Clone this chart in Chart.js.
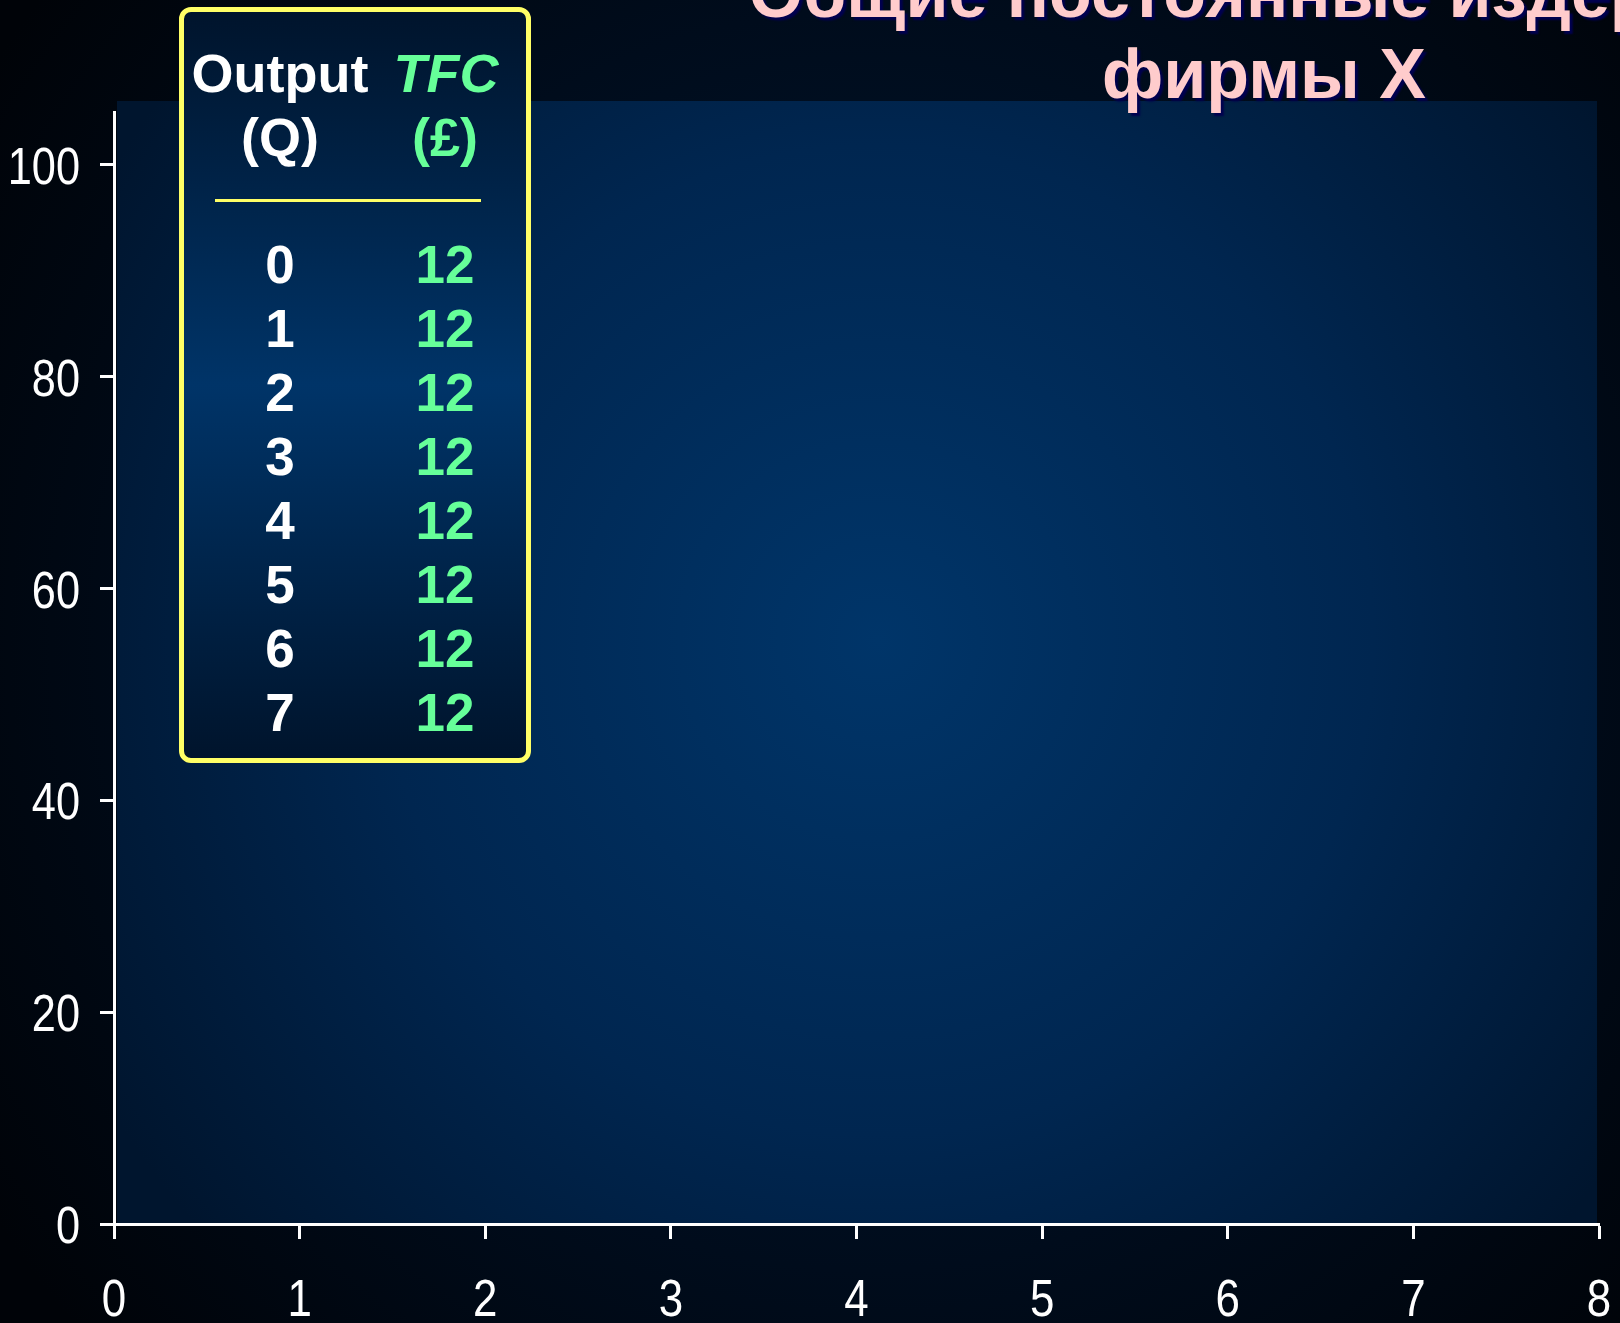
<!DOCTYPE html>
<html>
<head>
<meta charset="utf-8">
<script src="https://cdn.jsdelivr.net/npm/chart.js@4"></script>
<style>
  html, body { margin: 0; padding: 0; background: #000710; overflow: hidden; }
  #wrap { position: relative; width: 1620px; height: 1323px; overflow: hidden; }
  #chart { position: absolute; left: 0; top: 0; }
  .title {
    position: absolute; left: 1264px; top: -47px; transform: translateX(-50%);
    white-space: nowrap; text-align: center;
    font-family: "Liberation Sans", Arial, sans-serif; font-weight: bold;
    font-size: 70px; line-height: 81px; color: #ffcccc;
    text-shadow: 3px 3px 2px #000050;
  }
  .box {
    position: absolute; left: 179px; top: 7px; width: 342px; height: 746px;
    border: 5px solid #ffff66; border-radius: 12px;
    background: linear-gradient(to bottom, #00142c 0%, #003468 50%, #00142c 100%);
  }
  .cell {
    position: absolute; width: 180px; margin-left: -90px; text-align: center;
    font-family: "Liberation Sans", Arial, sans-serif; font-weight: bold;
    font-size: 53px; line-height: 64px; white-space: nowrap;
  }
  .head { font-size: 54px; }
  .q { color: #ffffff; }
  .c { color: #66ff99; }
  .rule { position: absolute; left: 215px; top: 199px; width: 266px; height: 3px; background: #ffff66; }
</style>
</head>
<body>
<div id="wrap">
  <canvas id="chart" width="1620" height="1323"></canvas>
  <div class="title">Общие постоянные издержки<br>фирмы X</div>
  <div class="box"></div>
  <div class="rule"></div>
  <div id="table"></div>
</div>
<script>
// values shown in the table
var outputQ = [0, 1, 2, 3, 4, 5, 6, 7];
var tfcValues = [12, 12, 12, 12, 12, 12, 12, 12];

// axis ticks
var xTicks = [0, 1, 2, 3, 4, 5, 6, 7, 8];
var yTicks = [0, 20, 40, 60, 80, 100];

// table text: header lines, then one line per row, 64px apart
function addCell(text, cls, x, baseline, italic) {
    var d = document.createElement('div');
    d.className = 'cell ' + cls;
    d.style.left = x + 'px';
    d.style.top = (baseline - 50) + 'px';
    if (italic) d.style.fontStyle = 'italic';
    d.textContent = text;
    document.getElementById('table').appendChild(d);
}
addCell('Output', 'q head', 280, 91);
addCell('TFC', 'c head', 446, 91, true);
addCell('(Q)', 'q head', 280, 155);
addCell('(£)', 'c head', 445, 155);
for (var i = 0; i < outputQ.length; i++) {
    addCell(String(outputQ[i]), 'q', 280, 283 + 64 * i);
    addCell(String(tfcValues[i]), 'c', 445, 283 + 64 * i);
}

var backdrop = {
    id: 'backdrop',
    beforeDraw: function (chart) {
        var ctx = chart.ctx, a = chart.chartArea;
        ctx.save();
        var g = ctx.createRadialGradient(870, 640, 0, 870, 640, 1050);
        g.addColorStop(0, '#001a36');
        g.addColorStop(0.6, '#000c1c');
        g.addColorStop(1, '#000308');
        ctx.fillStyle = g;
        ctx.fillRect(0, 0, chart.width, chart.height);
        var g2 = ctx.createRadialGradient(878, 640, 0, 878, 640, 900);
        g2.addColorStop(0, '#003569');
        g2.addColorStop(0.55, '#002650');
        g2.addColorStop(1, '#00152e');
        ctx.fillStyle = g2;
        ctx.fillRect(a.left + 3, a.top - 11, a.right - a.left - 5, a.bottom - a.top + 11);
        ctx.restore();
    }
};

// narrow tick labels: the slide uses a condensed face, so squeeze the text horizontally
var narrowLabels = {
    id: 'narrowLabels',
    afterDraw: function (chart) {
        var ctx = chart.ctx, size = 51;
        ctx.save();
        ctx.fillStyle = '#ffffff';
        ctx.font = size + 'px "Liberation Sans", Arial, sans-serif';
        ctx.textBaseline = 'alphabetic';
        var xs = chart.scales.x, ys = chart.scales.y;
        ctx.textAlign = 'center';
        xs.ticks.forEach(function (t) {
            ctx.save();
            ctx.translate(xs.getPixelForValue(t.value), 1316);
            ctx.scale(0.86, 1);
            ctx.fillText(String(t.value), 0, 0);
            ctx.restore();
        });
        ctx.textAlign = 'right';
        ys.ticks.forEach(function (t) {
            ctx.save();
            ctx.translate(80, ys.getPixelForValue(t.value) + 19);
            ctx.scale(0.85, 1);
            ctx.fillText(String(t.value), 0, 0);
            ctx.restore();
        });
        ctx.restore();
    }
};

new Chart(document.getElementById('chart').getContext('2d'), {
    type: 'line',
    data: { datasets: [] },
    options: {
        responsive: false,
        animation: false,
        layout: { padding: { top: 112, right: 21, left: 0, bottom: 0 } },
        plugins: { legend: { display: false }, tooltip: { enabled: false } },
        scales: {
            x: {
                type: 'linear', position: 'bottom', min: 0, max: 8,
                afterBuildTicks: function (s) { s.ticks = xTicks.map(function (v) { return { value: v }; }); },
                afterFit: function (s) { s.height = 99; s.paddingLeft = 0; s.paddingRight = 0; },
                grid: { drawOnChartArea: false, color: '#ffffff', tickColor: '#ffffff', tickLength: 15, tickWidth: 3 },
                border: { color: '#ffffff', width: 3 },
                ticks: { display: false }
            },
            y: {
                type: 'linear', min: 0, max: 105,
                afterBuildTicks: function (s) { s.ticks = yTicks.map(function (v) { return { value: v }; }); },
                afterFit: function (s) { s.width = 114; s.paddingTop = 0; s.paddingBottom = 0; },
                grid: { drawOnChartArea: false, color: '#ffffff', tickColor: '#ffffff', tickLength: 14, tickWidth: 3 },
                border: { color: '#ffffff', width: 3 },
                ticks: { display: false }
            }
        }
    },
    plugins: [backdrop, narrowLabels]
});
</script>
</body>
</html>
